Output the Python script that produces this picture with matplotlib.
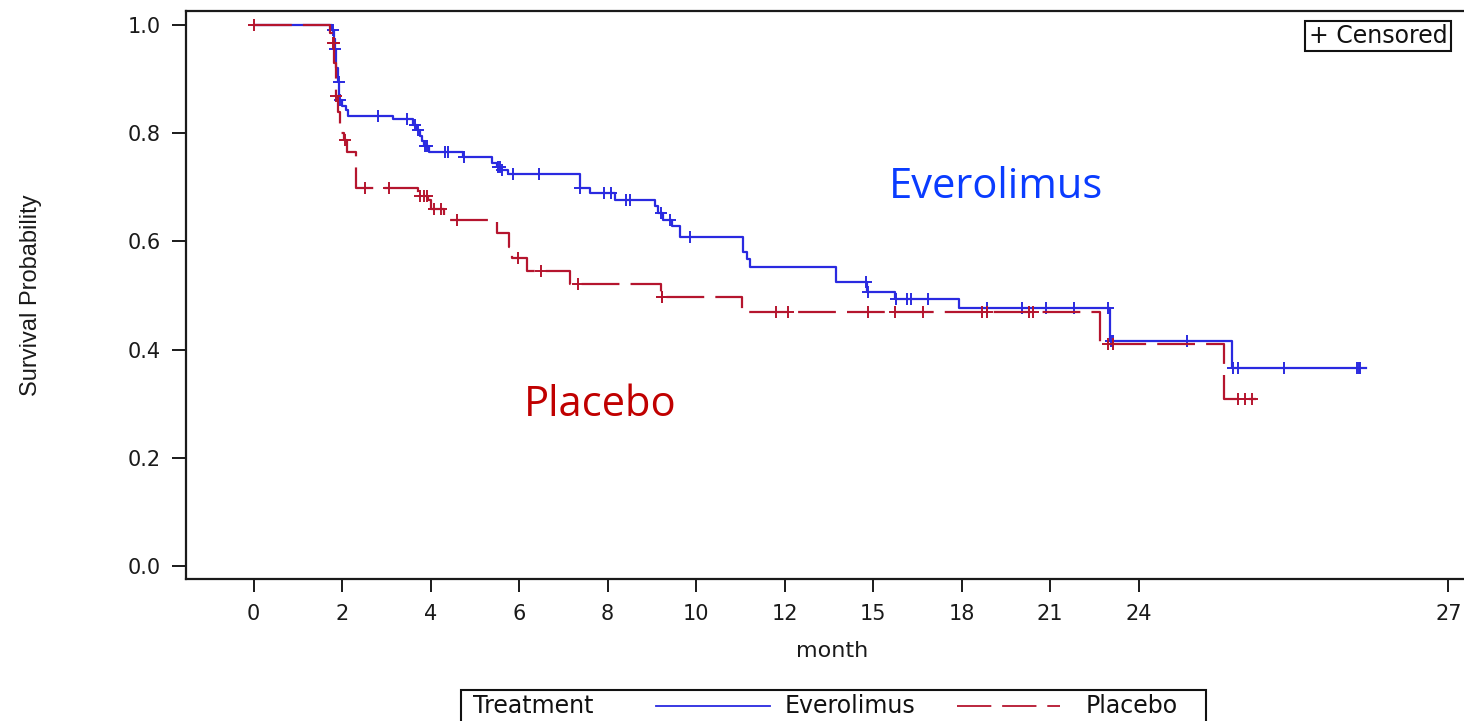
import matplotlib.pyplot as plt
import numpy as np
from matplotlib.lines import Line2D
from matplotlib.patches import Rectangle

# x axis is drawn on a linear scale of tick slots; labels past 12 are as printed
tick_pos = [0, 2, 4, 6, 8, 10, 12, 14, 16, 18, 20, 27]
tick_lab = ['0', '2', '4', '6', '8', '10', '12', '15', '18', '21', '24', '27']
y_ticks = [0.0, 0.2, 0.4, 0.6, 0.8, 1.0]

# Kaplan-Meier steps (time, survival after the step)
evero_t = [0, 1.78, 1.81, 1.84, 1.87, 1.9, 1.94, 2.0, 2.08, 2.14, 3.15, 3.6, 3.7,
           3.75, 3.8, 3.85, 3.97, 4.73, 5.38, 5.5, 5.6, 5.75, 7.37, 7.6, 8.17,
           9.08, 9.15, 9.25, 9.45, 9.64, 11.06, 11.15, 11.22, 13.16, 13.86,
           14.5, 15.94, 19.35, 22.11]
evero_s = [1.0, 0.99, 0.975, 0.956, 0.92, 0.895, 0.861, 0.85, 0.842, 0.832, 0.826,
           0.815, 0.805, 0.795, 0.785, 0.776, 0.765, 0.756, 0.745, 0.738, 0.732,
           0.725, 0.699, 0.689, 0.676, 0.665, 0.652, 0.64, 0.628, 0.609, 0.581,
           0.567, 0.553, 0.525, 0.507, 0.493, 0.477, 0.416, 0.366]
evero_end = 25.14
evero_cens = [1.8, 1.85, 1.92, 1.96, 2.82, 3.47, 3.65, 3.72, 3.87, 3.92, 4.33, 4.4,
              4.75, 5.52, 5.57, 5.62, 5.87, 6.46, 7.38, 7.92, 8.08, 8.42, 8.51,
              9.2, 9.42, 9.86, 13.84, 13.88, 14.52, 14.77, 14.86, 15.24, 16.57,
              17.36, 17.91, 18.54, 19.31, 19.38, 19.42, 21.09, 22.13, 22.24, 23.29,
              24.94, 24.97, 25.0]

placebo_t = [0, 1.73, 1.78, 1.82, 1.86, 1.9, 1.95, 2.05, 2.1, 2.32, 3.72, 3.94,
             4.0, 4.3, 5.49, 5.77, 5.84, 6.18, 7.15, 9.21, 11.04, 19.13, 21.93]
placebo_s = [1.0, 0.985, 0.967, 0.93, 0.869, 0.84, 0.80, 0.787, 0.765, 0.699, 0.683,
             0.676, 0.66, 0.64, 0.615, 0.59, 0.569, 0.545, 0.521, 0.498, 0.47,
             0.41, 0.308]
placebo_end = 22.65
placebo_cens = [0, 1.8, 1.81, 1.87, 2.06, 2.52, 3.07, 3.75, 3.85, 3.92, 4.07, 4.23,
                4.59, 5.98, 6.5, 7.33, 9.22, 9.24, 11.81, 12.08, 13.88, 14.5, 15.13,
                16.46, 16.57, 17.52, 17.61, 19.31, 19.42, 22.24, 22.4, 22.56]

blue = '#2a2ae0'
red = '#b5152e'


def surv_at(t, times, surv):
    idx = np.searchsorted(times, t, side='right') - 1
    return np.asarray(surv)[idx]


W, H = 1464, 721
fig = plt.figure(figsize=(W / 100, H / 100), dpi=100)
ax = fig.add_axes([186 / W, (H - 579) / H, (1475 - 186) / W, (579 - 11) / H])

ax.step(evero_t + [evero_end], evero_s + [evero_s[-1]], where='post', color=blue, lw=1.6)
ax.plot(evero_cens, surv_at(evero_cens, evero_t, evero_s), ls='none', marker='+',
        color=blue, ms=9, mew=1.4)
ax.step(placebo_t + [placebo_end], placebo_s + [placebo_s[-1]], where='post', color=red,
        lw=1.6, dashes=(17, 5))
ax.plot(placebo_cens, surv_at(placebo_cens, placebo_t, placebo_s), ls='none', marker='+',
        color=red, ms=9, mew=1.4)

px_per = 44.25
ax.set_xlim(-(253.6 - 186) / px_per, (1475 - 253.6) / px_per)
ax.set_ylim(-13 / 541, 1 + 14 / 541)
ax.set_xticks(tick_pos)
ax.set_xticklabels(tick_lab)
ax.set_yticks(y_ticks)
ax.set_yticklabels(['%.1f' % v for v in y_ticks])

for s in ax.spines.values():
    s.set_linewidth(1.6)
    s.set_color('#1a1a1a')
ax.tick_params(axis='y', length=10, width=1.4, pad=8, labelsize=15, colors='#1a1a1a')
ax.tick_params(axis='x', length=9, width=1.4, pad=9, labelsize=15, colors='#1a1a1a')
for lab in ax.get_xticklabels() + ax.get_yticklabels():
    lab.set_family('DejaVu Sans')

ax.set_xlabel('month', fontsize=16, family='DejaVu Sans', color='#1a1a1a')
ax.xaxis.set_label_coords((832 - 186) / 1289, (579 - 641) / 568)
ax.set_ylabel('Survival Probability', fontsize=17,
              family=['Liberation Sans Narrow', 'Liberation Sans'], color='#1a1a1a')
ax.yaxis.set_label_coords((42 - 186) / 1289, (579 - 295) / 568)

ax.text(16.78, 0.68, 'Everolimus', color='#0a3cff', fontsize=30, family='Open Sans',
        ha='center', va='baseline')
ax.text(7.83, 0.277, 'Placebo', color='#c00000', fontsize=30, family='Open Sans',
        ha='center', va='baseline')

ax.text((1378 - 253.6) / px_per, (566 - 36) / 541, '+ Censored',
        fontsize=17, family='DejaVu Sans', ha='center', va='center', color='#111111',
        bbox=dict(boxstyle='square,pad=0.14', fc='white', ec='#111111', lw=1.5))

# bottom legend
fig.add_artist(Rectangle((461 / W, -0.05), (1206 - 461) / W, 0.05 + (H - 690) / H,
                         transform=fig.transFigure, fill=False, ec='#111111', lw=1.5))
ly = (H - 706) / H
fig.text(473 / W, ly, 'Treatment', fontsize=17, family='DejaVu Sans', va='center',
         color='#111111')
fig.add_artist(Line2D([656 / W, 770 / W], [ly, ly], transform=fig.transFigure,
                      color=blue, lw=1.3))
fig.text(785 / W, ly, 'Everolimus', fontsize=17, family='DejaVu Sans', va='center',
         color='#111111')
fig.add_artist(Line2D([957 / W, 1060 / W], [ly, ly], transform=fig.transFigure,
                      color=red, lw=1.3, dashes=(19, 6)))
fig.text(1086 / W, ly, 'Placebo', fontsize=17, family='DejaVu Sans', va='center',
         color='#111111')

fig.savefig('out.png', dpi=100)
